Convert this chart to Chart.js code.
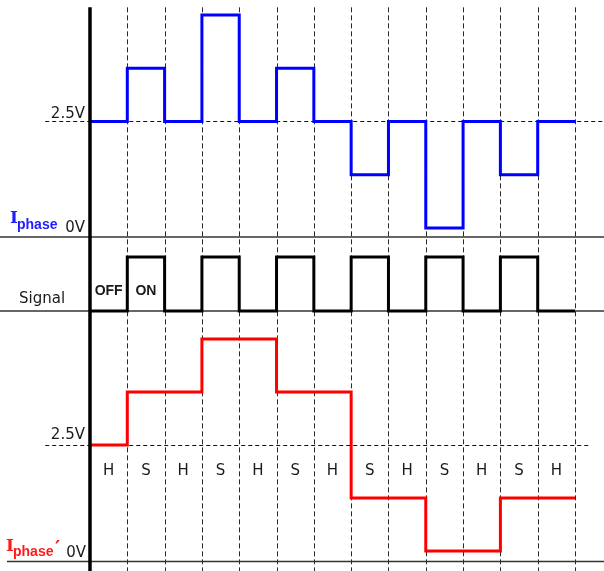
<!DOCTYPE html>
<html>
<head>
<meta charset="utf-8">
<script src="https://cdn.jsdelivr.net/npm/chart.js@4"></script>
<style>
  body { margin: 0; background: #fff; }
  #wrap { width: 604px; height: 571px; }
</style>
</head>
<body>
<div id="wrap"><canvas id="canvas" width="604" height="571"></canvas></div>
<script>
// Etiquetas de cada medio periodo (H = hold, S = sample)
const phaseLabels = ["H", "S", "H", "S", "H", "S", "H", "S", "H", "S", "H", "S", "H"];
// Corriente de fase medida (V)
const iphaseValues = [2.5, 3.75, 2.5, 5, 2.5, 3.75, 2.5, 1.25, 2.5, 0, 2.5, 1.25, 2.5];
// Señal de muestreo (0 = OFF, 1 = ON)
const signalValues = [0, 1, 0, 1, 0, 1, 0, 1, 0, 1, 0, 1, 0];
// Corriente de fase retenida (V)
const iphaseHeldValues = [2.5, 3.75, 3.75, 5, 5, 3.75, 3.75, 1.25, 1.25, 0, 0, 1.25, 1.25];
// Etiquetas de tension
const voltTicks = [0, 2.5];
const signalTexts = ["OFF", "ON"];

// Convierte los valores por intervalo en puntos para una linea escalonada
function toSteps(values) {
  const points = values.map((v, i) => ({ x: i, y: v }));
  points.push({ x: values.length, y: values[values.length - 1] });
  return points;
}

const grafico = document.getElementById("canvas");

// Plugin que dibuja la cuadricula, separadores y textos
const diagramPlugin = {
  id: "diagram",
  beforeDatasetsDraw(chart) {
    const ctx = chart.ctx;
    const { x, yTop, ySig, yBot } = chart.scales;
    const area = chart.chartArea;
    const n = phaseLabels.length;
    const topY = yTop.getPixelForValue(5.18);

    ctx.save();
    // lineas verticales punteadas
    ctx.strokeStyle = "#2a2a2a";
    ctx.lineWidth = 1;
    ctx.setLineDash([5, 3]);
    for (let i = 1; i <= n; i++) {
      const px = Math.round(x.getPixelForValue(i)) + 0.5;
      ctx.beginPath();
      ctx.moveTo(px, topY);
      ctx.lineTo(px, area.bottom);
      ctx.stroke();
    }
    // lineas de 2.5V
    ctx.strokeStyle = "#111";
    ctx.setLineDash([4, 3]);
    const yt = Math.round(yTop.getPixelForValue(voltTicks[1])) + 0.5;
    ctx.beginPath();
    ctx.moveTo(x.getPixelForValue(-1.2), yt);
    ctx.lineTo(area.right, yt);
    ctx.stroke();
    const yb = Math.round(yBot.getPixelForValue(voltTicks[1])) + 0.5;
    ctx.beginPath();
    ctx.moveTo(x.getPixelForValue(-1.2), yb);
    ctx.lineTo(x.getPixelForValue(13.4), yb);
    ctx.stroke();

    // separadores
    ctx.setLineDash([]);
    ctx.strokeStyle = "#333";
    ctx.lineWidth = 1.5;
    const seps = [
      [area.left, yTop.getPixelForValue(-0.21)],
      [area.left, ySig.getPixelForValue(0)],
      [area.left + 7, yBot.getPixelForValue(-0.25)],
    ];
    seps.forEach(([x0, y]) => {
      ctx.beginPath();
      ctx.moveTo(x0, y);
      ctx.lineTo(area.right, y);
      ctx.stroke();
    });
    ctx.restore();
  },
  afterDatasetsDraw(chart) {
    const ctx = chart.ctx;
    const { x, yTop, ySig, yBot } = chart.scales;
    const area = chart.chartArea;
    const axisX = x.getPixelForValue(0);

    ctx.save();
    // eje vertical
    ctx.strokeStyle = "#000";
    ctx.lineWidth = 3.5;
    ctx.beginPath();
    ctx.moveTo(axisX, yTop.getPixelForValue(5.18));
    ctx.lineTo(axisX, area.bottom);
    ctx.stroke();

    // textos de tension
    ctx.fillStyle = "#1a1a1a";
    ctx.font = "15px 'DejaVu Sans'";
    ctx.textAlign = "right";
    ctx.textBaseline = "alphabetic";
    ctx.fillText(voltTicks[1] + "V", axisX - 5, yTop.getPixelForValue(2.5) - 3);
    ctx.fillText(voltTicks[0] + "V", axisX - 5, yTop.getPixelForValue(0) + 4);
    ctx.fillText(voltTicks[1] + "V", axisX - 5, yBot.getPixelForValue(2.5) - 6);
    ctx.fillText(voltTicks[0] + "V", axisX - 4, yBot.getPixelForValue(0) + 6);

    // etiqueta Signal
    ctx.textAlign = "left";
    ctx.fillText("Signal", 19, ySig.getPixelForValue(0) - 8);

    // OFF / ON
    ctx.font = "bold 14px 'Liberation Sans'";
    ctx.textAlign = "center";
    signalTexts.forEach((t, i) => {
      ctx.fillText(t, x.getPixelForValue(i + 0.5), ySig.getPixelForValue(0.3));
    });

    // H / S
    ctx.font = "15px 'DejaVu Sans'";
    phaseLabels.forEach((t, i) => {
      ctx.fillText(t, x.getPixelForValue(i + 0.5), yBot.getPixelForValue(2.5) + 30);
    });

    // I_phase (azul)
    ctx.textAlign = "left";
    ctx.fillStyle = "#2020ff";
    ctx.font = "bold 17px 'DejaVu Serif'";
    ctx.fillText("I", 10, yTop.getPixelForValue(0) - 5);
    ctx.font = "bold 14px 'Liberation Sans'";
    ctx.fillText("phase", 17, yTop.getPixelForValue(0) + 1);

    // I_phase' (rojo)
    ctx.fillStyle = "#ff1a1a";
    ctx.font = "bold 17px 'DejaVu Serif'";
    ctx.fillText("I", 6, yBot.getPixelForValue(0));
    ctx.font = "bold 14px 'Liberation Sans'";
    ctx.fillText("phase", 13, yBot.getPixelForValue(0) + 5);
    ctx.font = "bold 20px 'DejaVu Sans'";
    ctx.fillText("\u2032", 55, yBot.getPixelForValue(0) + 3);
    ctx.restore();
  },
};

const lineBase = {
  stepped: true,
  pointRadius: 0,
  borderWidth: 3,
  fill: false,
  borderJoinStyle: "miter",
  borderCapStyle: "butt",
};

new Chart(grafico, {
  type: "line",
  data: {
    datasets: [
      { ...lineBase, label: "Iphase", data: toSteps(iphaseValues), borderColor: "#0000ff", yAxisID: "yTop" },
      { ...lineBase, label: "Signal", data: toSteps(signalValues), borderColor: "#000000", yAxisID: "ySig" },
      { ...lineBase, label: "Iphase'", data: toSteps(iphaseHeldValues), borderColor: "#ff0000", yAxisID: "yBot" },
    ],
  },
  options: {
    responsive: false,
    animation: false,
    events: [],
    layout: { padding: 0 },
    plugins: { legend: { display: false }, tooltip: { enabled: false } },
    scales: {
      x: { type: "linear", display: false, min: -2.412, max: 13.777 },
      yTop: { type: "linear", display: false, min: -8.052, max: 5.352 },
      ySig: { type: "linear", display: false, min: -4.815, max: 5.759 },
      yBot: { type: "linear", display: false, min: -0.472, max: 12.995 },
    },
  },
  plugins: [diagramPlugin],
});
</script>
</body>
</html>
